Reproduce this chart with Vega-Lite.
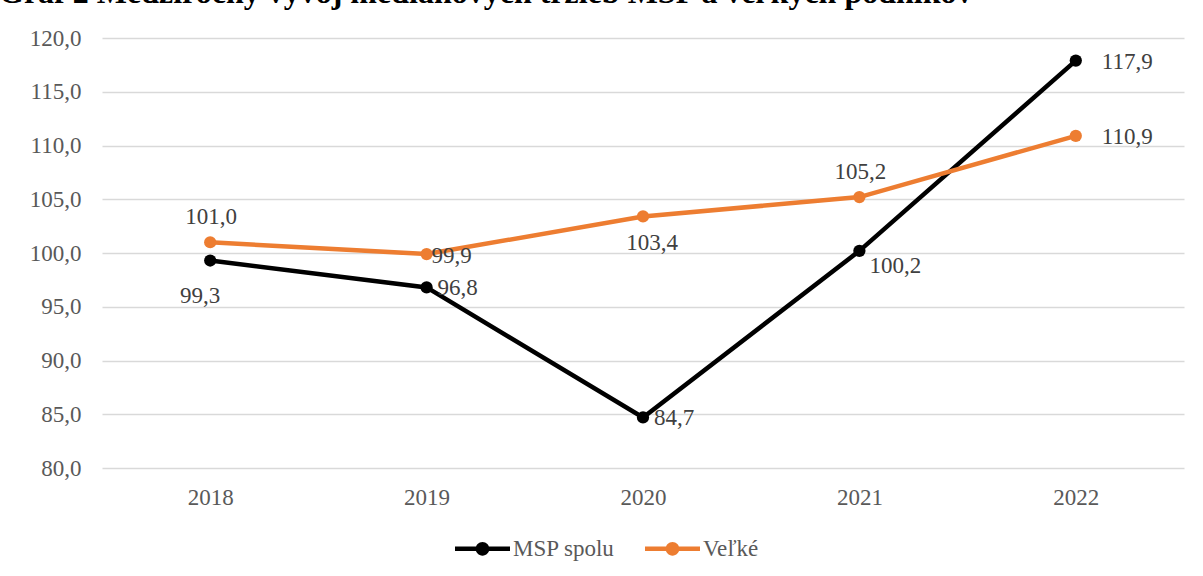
{
  "$schema": "https://vega.github.io/schema/vega-lite/v6.json",
  "width": 1082,
  "height": 430,
  "autosize": {"type": "none"},
  "padding": {"left": 102, "top": 38, "right": 19, "bottom": 108},
  "background": "white",
  "title": {
    "text": "Graf 2 Medziročný vývoj mediánových tržieb MSP a veľkých podnikov",
    "anchor": "start",
    "frame": "group",
    "font": "Times New Roman",
    "fontSize": 32,
    "fontWeight": "bold",
    "color": "#000000",
    "baseline": "alphabetic",
    "offset": 20,
    "dy": 28,
    "dx": -103
  },
  "data": {
    "values": [
      {"year": "2018", "series": "MSP spolu", "value": 99.3},
      {"year": "2019", "series": "MSP spolu", "value": 96.8},
      {"year": "2020", "series": "MSP spolu", "value": 84.7},
      {"year": "2021", "series": "MSP spolu", "value": 100.2},
      {"year": "2022", "series": "MSP spolu", "value": 117.9},
      {"year": "2018", "series": "Veľké", "value": 101.0},
      {"year": "2019", "series": "Veľké", "value": 99.9},
      {"year": "2020", "series": "Veľké", "value": 103.4},
      {"year": "2021", "series": "Veľké", "value": 105.2},
      {"year": "2022", "series": "Veľké", "value": 110.9}
    ]
  },
  "transform": [
    {"calculate": "replace(format(datum.value, '.1f'), '.', ',')", "as": "label"}
  ],
  "encoding": {
    "x": {
      "field": "year",
      "type": "ordinal",
      "scale": {"type": "point", "padding": 0.5},
      "axis": {
        "title": null,
        "labelAngle": 0,
        "ticks": false,
        "domain": false,
        "grid": false,
        "labelFont": "Times New Roman",
        "labelFontSize": 23,
        "labelColor": "#595959",
        "labelPadding": 18
      }
    },
    "y": {
      "field": "value",
      "type": "quantitative",
      "scale": {"domain": [80, 120], "nice": false, "zero": false},
      "axis": {
        "title": null,
        "values": [80, 85, 90, 95, 100, 105, 110, 115, 120],
        "labelExpr": "replace(format(datum.value, '.1f'), '.', ',')",
        "ticks": false,
        "domain": false,
        "grid": true,
        "gridColor": "#D9D9D9",
        "gridWidth": 1.5,
        "labelFont": "Times New Roman",
        "labelFontSize": 23,
        "labelColor": "#595959",
        "labelPadding": 21
      }
    }
  },
  "layer": [
    {
      "mark": {"type": "line", "strokeWidth": 4.5, "point": {"filled": true, "size": 150, "opacity": 1}},
      "encoding": {
        "color": {
          "field": "series",
          "type": "nominal",
          "scale": {"domain": ["MSP spolu", "Veľké"], "range": ["#000000", "#ED7D31"]},
          "legend": {
            "title": null,
            "orient": "none",
            "direction": "horizontal",
            "legendX": 353,
            "legendY": 483,
            "symbolType": "M-1,-0.08L1,-0.08L1,0.08L-1,0.08Z M-0.25,0A0.25,0.25 0 1,1 0.25,0A0.25,0.25 0 1,1 -0.25,0Z",
            "symbolSize": 3025,
            "symbolStrokeWidth": 0,
            "symbolOpacity": 1,
            "labelFont": "Times New Roman",
            "labelFontSize": 23,
            "labelColor": "#595959",
            "labelOffset": 3,
            "columnPadding": 30
          }
        }
      }
    },
    {
      "transform": [{"filter": "datum.year == '2022'"}],
      "mark": {"type": "text", "align": "left", "baseline": "middle", "dx": 26, "dy": 1, "font": "Times New Roman", "fontSize": 23, "color": "#404040"},
      "encoding": {"text": {"field": "label"}}
    },
    {
      "transform": [{"filter": "datum.series == 'MSP spolu' && (datum.year == '2019' || datum.year == '2020')"}],
      "mark": {"type": "text", "align": "left", "baseline": "middle", "dx": 11, "dy": 1, "font": "Times New Roman", "fontSize": 23, "color": "#404040"},
      "encoding": {"text": {"field": "label"}}
    },
    {
      "transform": [{"filter": "datum.series == 'MSP spolu' && datum.year == '2021'"}],
      "mark": {"type": "text", "align": "left", "baseline": "middle", "dx": 10, "dy": 15, "font": "Times New Roman", "fontSize": 23, "color": "#404040"},
      "encoding": {"text": {"field": "label"}}
    },
    {
      "transform": [{"filter": "datum.series == 'Veľké' && datum.year == '2019'"}],
      "mark": {"type": "text", "align": "left", "baseline": "middle", "dx": 5, "dy": 2, "font": "Times New Roman", "fontSize": 23, "color": "#404040"},
      "encoding": {"text": {"field": "label"}}
    },
    {
      "transform": [{"filter": "datum.series == 'Veľké' && (datum.year == '2018' || datum.year == '2021')"}],
      "mark": {"type": "text", "align": "center", "baseline": "middle", "dx": 1, "dy": -25, "font": "Times New Roman", "fontSize": 23, "color": "#404040"},
      "encoding": {"text": {"field": "label"}}
    },
    {
      "transform": [{"filter": "datum.series == 'MSP spolu' && datum.year == '2018'"}],
      "mark": {"type": "text", "align": "center", "baseline": "middle", "dx": -10, "dy": 35, "font": "Times New Roman", "fontSize": 23, "color": "#404040"},
      "encoding": {"text": {"field": "label"}}
    },
    {
      "transform": [{"filter": "datum.series == 'Veľké' && datum.year == '2020'"}],
      "mark": {"type": "text", "align": "center", "baseline": "middle", "dx": 9, "dy": 27, "font": "Times New Roman", "fontSize": 23, "color": "#404040"},
      "encoding": {"text": {"field": "label"}}
    }
  ],
  "config": {
    "view": {"stroke": null}
  }
}
